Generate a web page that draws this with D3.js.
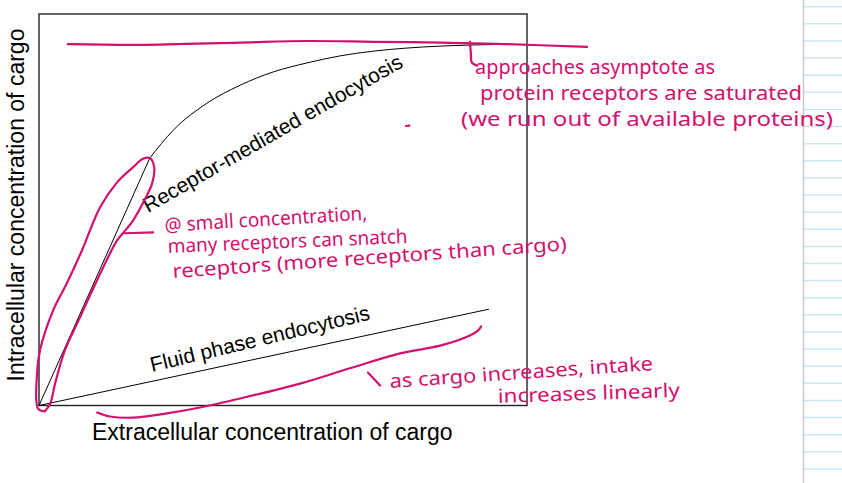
<!DOCTYPE html>
<html>
<head>
<meta charset="utf-8">
<script src="https://cdn.jsdelivr.net/npm/d3@7"></script>
<style>
  body { margin: 0; background: #fff; }
  svg { display: block; }
</style>
</head>
<body>
<div id="chart"></div>
<script>
// Curves (extracellular vs intracellular concentration, arbitrary units 0-100)
const receptorLinear = [[0, 0], [22.7, 63.2]];
const receptorSaturating = [
    [22.7, 63.2], [27.5, 70.3], [34.4, 77.2], [41.2, 81.8], [48.0, 85.2], [54.9, 87.5],
    [61.7, 89.3], [68.4, 90.5], [75.4, 91.3], [82.2, 91.8], [88.9, 92.1], [93.4, 92.2]
];
const fluidPhase = [[0, 0], [92.2, 24.6]];

const seriesLabels = ["Receptor-mediated endocytosis", "Fluid phase endocytosis"];
const xTitle = "Extracellular concentration of cargo";
const yTitle = "Intracellular concentration of cargo";

// Handwritten pink notes (same data units)
const asymptoteStroke = [[5.9, 92.3], [20.7, 92.1], [41.2, 92.7], [54.9, 93.1], [68.4, 92.9], [82.2, 92.7], [95.9, 92.3], [112.3, 91.6]];
const asymptoteTick = [[88.3, 92.9], [88.5, 90], [88.7, 87.6], [89.8, 86.8]];
const loopStroke = [
    [1.2, -1.5], [-0.2, -0.8], [-0.4, 8.2], [0.2, 14.1], [2.9, 24.3], [5.7, 31.2], [8.8, 39.6],
    [12.5, 50.6], [16.0, 57.0], [19.3, 60.9], [21.3, 63.0], [22.7, 63.2], [23.6, 60.9],
    [23.2, 56.8], [21.3, 51.7], [19.3, 47.3], [17.2, 44.0], [16.0, 42.2], [11.9, 32.0],
    [8.4, 22.5], [5.3, 14.1], [3.3, 5.6], [2.3, 0.5], [1.2, -1.5]
];
const loopPointer = [[17.6, 44.0], [23.4, 44.2]];
const linearStroke = [
    [11.9, -1.8], [14.5, -2.8], [19.3, -3.1], [26.2, -2.0], [33.0, -0.5], [41.2, 1.8],
    [53.5, 5.6], [63.7, 9.5], [74.0, 13.3], [82.2, 15.3], [88.3, 17.9], [90.0, 19.2], [90.6, 20.2]
];
const linearTick = [[67.4, 8.4], [69.9, 5.1]];
const strayDash = [[75.2, 71.4], [75.9, 71.5]];

const noteTop = ["approaches asymptote as", "protein receptors are saturated", "(we run out of available proteins)"];
const noteMid = ["@ small concentration,", "many receptors can snatch", "receptors (more receptors than cargo)"];
const noteLow = ["as cargo increases, intake", "increases linearly"];

const W = 842, H = 483;
const pink = "#d3106e";

const svg = d3.select("#chart").append("svg")
    .attr("width", W)
    .attr("height", H);

// notebook margin on the right
const paper = svg.append("g");
paper.selectAll("line.rule")
    .data(d3.range(28))
    .enter().append("line")
    .attr("class", "rule")
    .attr("x1", 804).attr("x2", W)
    .attr("y1", i => 6.7 + i * 17.12).attr("y2", i => 6.7 + i * 17.12)
    .attr("stroke", "#c8e7f5")
    .attr("stroke-width", 1.5);
paper.append("line")
    .attr("x1", 803.5).attr("x2", 803.5)
    .attr("y1", 0).attr("y2", H)
    .attr("stroke", "#c9c9c9")
    .attr("stroke-width", 1.5);

const x = d3.scaleLinear().domain([0, 100]).range([39, 527]);
const y = d3.scaleLinear().domain([0, 100]).range([405.5, 14]);

const line = d3.line().x(d => x(d[0])).y(d => y(d[1]));
const smooth = d3.line().x(d => x(d[0])).y(d => y(d[1])).curve(d3.curveMonotoneX);
const hand = d3.line().x(d => x(d[0])).y(d => y(d[1])).curve(d3.curveCatmullRom.alpha(0.5));

// plot frame
svg.append("rect")
    .attr("x", x(0))
    .attr("y", y(100))
    .attr("width", x(100) - x(0))
    .attr("height", y(0) - y(100))
    .attr("fill", "none")
    .attr("stroke", "#222")
    .attr("stroke-width", 1.4);

// curves
svg.append("path").attr("d", line(receptorLinear))
    .attr("fill", "none").attr("stroke", "#000").attr("stroke-width", 1);
svg.append("path").attr("d", smooth(receptorSaturating))
    .attr("fill", "none").attr("stroke", "#000").attr("stroke-width", 1);
svg.append("path").attr("d", line(fluidPhase))
    .attr("fill", "none").attr("stroke", "#000").attr("stroke-width", 1);

// series labels
svg.append("text")
    .attr("transform", "translate(148,213) rotate(-29.8)")
    .attr("font-family", "Liberation Sans, Arial, sans-serif")
    .attr("font-size", 21)
    .attr("fill", "#000")
    .text(seriesLabels[0]);
svg.append("text")
    .attr("transform", "translate(152,372) rotate(-13.5)")
    .attr("font-family", "Liberation Sans, Arial, sans-serif")
    .attr("font-size", 21)
    .attr("fill", "#000")
    .text(seriesLabels[1]);

// axis titles
svg.append("text")
    .attr("x", 92).attr("y", 440)
    .attr("font-family", "Liberation Sans, Arial, sans-serif")
    .attr("font-size", 23)
    .attr("fill", "#000")
    .text(xTitle);
svg.append("text")
    .attr("transform", "translate(23.5,205) rotate(-90)")
    .attr("text-anchor", "middle")
    .attr("font-family", "Liberation Sans, Arial, sans-serif")
    .attr("font-size", 23)
    .attr("fill", "#000")
    .text(yTitle);

// pink hand strokes
[asymptoteStroke, asymptoteTick, loopStroke, loopPointer, linearStroke, linearTick, strayDash].forEach(s => {
    svg.append("path")
        .attr("d", hand(s))
        .attr("fill", "none")
        .attr("stroke", pink)
        .attr("stroke-width", 2.2)
        .attr("stroke-linecap", "round")
        .attr("stroke-linejoin", "round");
});

// handwritten notes
function note(str, px, py, len, angle) {
    svg.append("text")
        .attr("transform", `translate(${px},${py}) rotate(${angle})`)
        .attr("font-family", "Noto Sans, sans-serif")
        .attr("font-size", 19.5)
        .attr("fill", pink)
        .attr("textLength", len)
        .attr("lengthAdjust", "spacingAndGlyphs")
        .text(str);
}

note(noteTop[0], 475, 74, 240, 0);
note(noteTop[1], 480, 100, 322, 0);
note(noteTop[2], 461, 126, 372, 0);

note(noteMid[0], 165, 232, 203, -3.5);
note(noteMid[1], 168, 253, 240, -2.4);
note(noteMid[2], 173, 278, 395, -4);

note(noteLow[0], 390, 388, 264, -3.9);
note(noteLow[1], 498, 403, 182, -1.9);
</script>
</body>
</html>
